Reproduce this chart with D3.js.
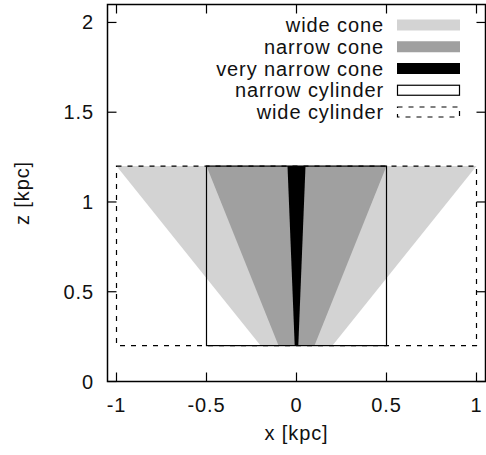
<!DOCTYPE html>
<html>
<head>
<meta charset="utf-8">
<script src="https://cdn.jsdelivr.net/npm/d3@7"></script>
<style>
  body { margin: 0; background: #fff; }
  svg { display: block; font-family: "Liberation Sans", Arial, sans-serif; }
  text { letter-spacing: 0.9px; fill: #111; }
</style>
</head>
<body>
<svg id="chart" width="486" height="455"></svg>
<script>
// cones: truncated between zBottom and zTop
const coneNames = ['wide cone', 'narrow cone', 'very narrow cone']
const coneTopHalf = [1.0, 0.5, 0.05]
const coneBottomHalf = [0.2, 0.1, 0.01]
const coneColors = ['#d3d3d3', '#a0a0a0', '#000000']

const cylNames = ['narrow cylinder', 'wide cylinder']
const cylHalf = [0.5, 1.0]
const cylDash = [null, '5,6']

const zBottom = 0.2
const zTop = 1.2

const xTicks = [-1, -0.5, 0, 0.5, 1]
const yTicks = [0, 0.5, 1, 1.5, 2]

const fs = '20px'
const svg = d3.select('#chart')
const x = d3.scaleLinear().domain([-1.05, 1.05]).range([107.5, 485.5])
const y = d3.scaleLinear().domain([0, 2.1]).range([381.5, 4.5])

const g = svg.append('g')

// cones (wide first so narrow ones sit on top)
coneNames.forEach((name, i) => {
  const pts = [
    [-coneTopHalf[i], zTop], [coneTopHalf[i], zTop],
    [coneBottomHalf[i], zBottom], [-coneBottomHalf[i], zBottom]
  ]
  g.append('path')
    .attr('d', d3.line().x(d => x(d[0])).y(d => y(d[1]))(pts) + 'Z')
    .attr('fill', coneColors[i])
})

// cylinders
cylNames.forEach((name, i) => {
  g.append('rect')
    .attr('x', x(-cylHalf[i]))
    .attr('y', y(zTop))
    .attr('width', x(cylHalf[i]) - x(-cylHalf[i]))
    .attr('height', y(zBottom) - y(zTop))
    .attr('fill', 'none')
    .attr('stroke', '#000')
    .attr('stroke-width', 1.2)
    .attr('stroke-dasharray', cylDash[i])
})

// axes: gnuplot style, ticks inward, mirrored
const tick = 9
const axisg = svg.append('g').attr('stroke', '#000').attr('stroke-width', 1.2)
xTicks.forEach(t => {
  axisg.append('line').attr('x1', x(t)).attr('x2', x(t)).attr('y1', y(0)).attr('y2', y(0) - tick)
  axisg.append('line').attr('x1', x(t)).attr('x2', x(t)).attr('y1', y(2.1)).attr('y2', y(2.1) + tick)
})
yTicks.forEach(t => {
  axisg.append('line').attr('x1', x(-1.05)).attr('x2', x(-1.05) + tick).attr('y1', y(t)).attr('y2', y(t))
  axisg.append('line').attr('x1', x(1.05)).attr('x2', x(1.05) - tick).attr('y1', y(t)).attr('y2', y(t))
})
svg.append('rect')
  .attr('x', x(-1.05)).attr('y', y(2.1))
  .attr('width', x(1.05) - x(-1.05)).attr('height', y(0) - y(2.1))
  .attr('fill', 'none').attr('stroke', '#000').attr('stroke-width', 1.5)

const fmt = d => String(d)
svg.append('g').selectAll('text').data(xTicks).join('text')
  .attr('x', d => x(d)).attr('y', 412)
  .attr('text-anchor', 'middle')
  .style('font-size', fs)
  .text(fmt)
svg.append('g').selectAll('text').data(yTicks).join('text')
  .attr('x', 94).attr('y', d => y(d)).attr('dy', '0.35em')
  .attr('text-anchor', 'end')
  .style('font-size', fs)
  .text(fmt)

svg.append('text').attr('x', x(0)).attr('y', 440)
  .attr('text-anchor', 'middle').style('font-size', fs).text('x [kpc]')
svg.append('text')
  .attr('transform', `translate(29, ${y(1.05)}) rotate(-90)`)
  .attr('text-anchor', 'middle').style('font-size', fs).text('z [kpc]')

// legend
const legNames = coneNames.concat(cylNames)
const legY = d3.scalePoint().domain(legNames).range([25, 112])
const lg = svg.append('g')
legNames.forEach((name, i) => {
  const cy = legY(name)
  lg.append('text').attr('x', 384).attr('y', cy).attr('dy', '0.35em')
    .attr('text-anchor', 'end').style('font-size', fs).text(name)
  if (i < coneNames.length) {
    lg.append('rect').attr('x', 397).attr('y', cy - 5.5).attr('width', 63).attr('height', 11)
      .attr('fill', coneColors[i])
  } else {
    const j = i - coneNames.length
    lg.append('rect').attr('x', 397.5).attr('y', cy - 5).attr('width', 62).attr('height', 10)
      .attr('fill', 'none').attr('stroke', '#000').attr('stroke-width', 1.2)
      .attr('stroke-dasharray', cylDash[j])
  }
})
</script>
</body>
</html>
